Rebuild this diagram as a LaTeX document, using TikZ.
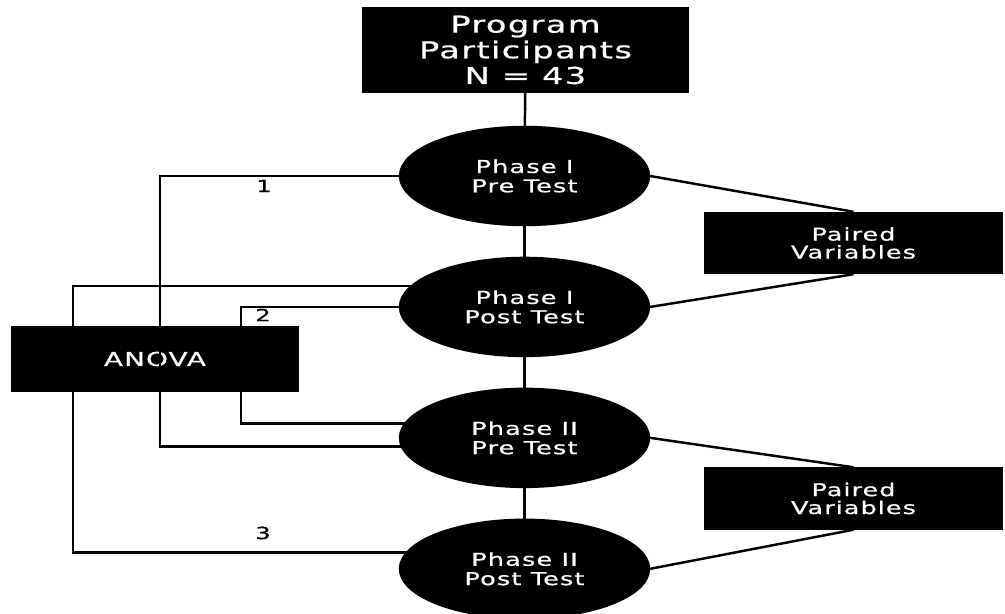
\documentclass[tikz,border=0pt]{standalone}
\usepackage{fontspec}
\newfontfamily\widesans[FakeStretch=1.45,LetterSpace=6,FakeBold=0.7]{DejaVu Sans}
\usetikzlibrary{positioning,shapes.geometric}

\begin{document}
\begin{tikzpicture}[x=0.02cm,y=-0.02cm,line width=1.4pt,
 blk/.style={draw,fill=black,text=white,align=center,inner sep=0pt,font=\widesans},
 ph/.style={blk,ellipse,minimum width=4.98cm,minimum height=1.96cm,font=\widesans\fontsize{10.1}{11}\selectfont},
 pv/.style={blk,minimum width=5.94cm,minimum height=1.2cm,font=\widesans\fontsize{10}{10.2}\selectfont},
 num/.style={font=\widesans\fontsize{9.5}{10}\selectfont}]
\useasboundingbox (0,0) rectangle (1005,614);
\node[blk,minimum width=6.5cm,minimum height=1.68cm,font=\widesans\fontsize{13.2}{14.6}\selectfont] (prog) at (525.5,50) {Program\\Participants\\N = 43};
\node[ph] (pre1) at (524.5,176) {Phase I\\Pre Test};
\node[ph,below=0.61cm of pre1] (post1) {Phase I\\Post Test};
\node[ph,below=0.61cm of post1] (pre2) {Phase II\\Pre Test};
\node[ph,below=0.61cm of pre2] (post2) {Phase II\\Post Test};
\node[pv] (pair1) at (853.5,243) {Paired\\Variables};
\node[pv] (pair2) at (853.5,498.5) {Paired\\Variables};
\node[blk,minimum width=5.72cm,minimum height=1.28cm,font=\widesans\fontsize{10.9}{11}\selectfont] (anova) at (155,359) {ANOVA};
% comparison labels
\node[num] (n1) at (264,186) {1};
\node[num] (n2) at (263,315) {2};
\node[num] (n3) at (263,533) {3};
\coordinate (k1) at (160,300);
\coordinate (k2) at (241,360);
\coordinate (k3) at (73,400);
\draw (prog) -- (pre1);
\draw (pre1) -- (post1);
\draw (post1) -- (pre2);
\draw (pre2) -- (post2);
\draw (pre1.west) -| (k1) |- ([shift={(0.3cm,-0.17cm)}]pre2.west);
\draw ([xshift=0.2cm]post1.west) -| (k2) |- ([shift={(0.3cm,0.29cm)}]pre2.west);
\draw ([shift={(0.4cm,0.42cm)}]post1.west) -| (k3) |- ([shift={(0.3cm,0.33cm)}]post2.west);
\draw (pre1.east) -- (pair1.north);
\draw (post1.east) -- (pair1.south);
\draw (pre2.east) -- (pair2.north);
\draw (post2.east) -- (pair2.south);
\end{tikzpicture}
\end{document}
